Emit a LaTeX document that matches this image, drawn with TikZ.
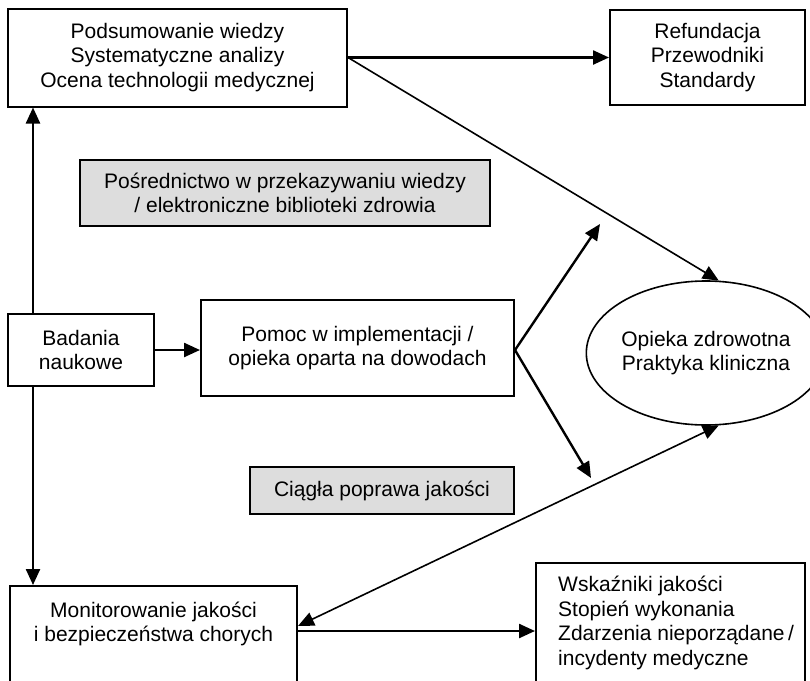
\documentclass[tikz,border=0pt]{standalone}
\usepackage{fontspec}
\setmainfont{Liberation Sans}
\usetikzlibrary{arrows.meta,shapes.geometric}
\definecolor{bxgray}{RGB}{221,221,221}
\begin{document}
\begin{tikzpicture}[x=1pt,y=-1pt,
  font=\fontsize{21}{24.5}\selectfont,
  box/.style={draw,line width=2pt,inner sep=0pt,align=center},
  graybox/.style={box,fill=bxgray},
  txt/.style={inner sep=0pt},
  arr/.style={line width=2.4pt,-{Triangle[length=16pt,width=14pt]}},
  thinarr/.style={line width=1.6pt,-{Triangle[length=16pt,width=14pt]}},
  botharr/.style={line width=1.6pt,{Triangle[length=16pt,width=14pt]}-{Triangle[length=16pt,width=14pt]}},
]
\useasboundingbox (0,0) rectangle (810,680);
\fill[white] (0,0) rectangle (810,680);

\node[box,minimum width=339pt,minimum height=98pt] (A) at (177.5,57.5)
  {Podsumowanie wiedzy\\Systematyczne analizy\\Ocena technologii medycznej};
\node[box,minimum width=195pt,minimum height=95pt] (B) at (707.5,57.5)
  {Refundacja\\Przewodniki\\Standardy};
\node[graybox,minimum width=410pt,minimum height=66pt] (C) at (285,193)
  {Pośrednictwo w przekazywaniu wiedzy\\/ elektroniczne biblioteki zdrowia};
\node[box,minimum width=146pt,minimum height=72pt] (Bad) at (81,350)
  {Badania\\naukowe};
\node[box,minimum width=313pt,minimum height=96pt] (P) at (357.5,348)
  {Pomoc w implementacji /\\opieka oparta na dowodach};
\node[draw,ellipse,line width=1.6pt,inner sep=0pt,align=center,
  minimum width=208pt,minimum height=144pt] (E) at (706,353)
  {Opieka zdrowotna\\Praktyka kliniczna};
\node[graybox,minimum width=264pt,minimum height=47pt] (Q) at (382,490.5)
  {Ciągła poprawa jakości};
\node[box,minimum width=287pt,minimum height=134pt] (M) at (153.5,653) {};
\node[txt,align=center] (Mt) at (153.5,624)
  {Monitorowanie jakości\\i bezpieczeństwa chorych};
\node[box,minimum width=269pt,minimum height=157pt] (W) at (670.5,641.5) {};
\node[txt,align=left,anchor=west] (Wt) at (558,623)
  {Wskaźniki jakości\\Stopień wykonania\\Zdarzenia nieporządane\,/\\incydenty medyczne};

\draw[arr] (A.east) -- (B.west);
\draw[thinarr] (A.east) -- (E.80);
\coordinate (vx) at (33,0);
\draw[arr] (Bad.north -| vx) -- (A.south -| vx);
\draw[arr] (Bad.south -| vx) -- (M.north -| vx);
\draw[arr] (Bad.east) -- (Bad.east -| P.west);
\coordinate (pj) at ([yshift=-2pt]P.east);
\coordinate (up) at (600,224);
\coordinate (dn) at (591,478);
\draw[arr] (pj) -- (up);
\draw[arr] (pj) -- (dn);
\coordinate (me) at ([yshift=-41pt]M.north east);
\draw[botharr] (E.-80) -- (me);
\coordinate (mw) at ([yshift=-46pt]M.north east);
\draw[arr] (mw) -- (mw -| W.west);
\end{tikzpicture}
\end{document}
